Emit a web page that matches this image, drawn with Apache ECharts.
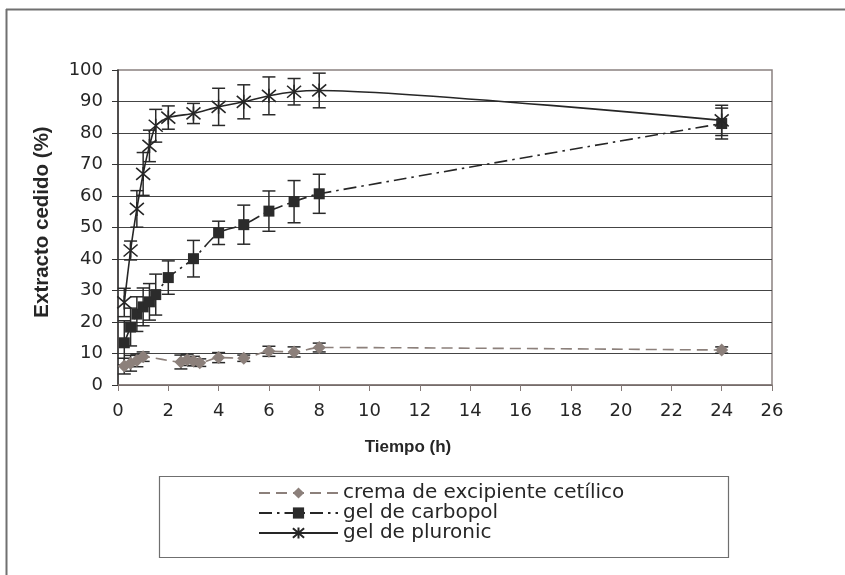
<!DOCTYPE html>
<html>
<head>
<meta charset="utf-8">
<script src="https://cdn.jsdelivr.net/npm/echarts@6/dist/echarts.min.js"></script>
<style>
  html, body { margin: 0; padding: 0; background: #ffffff; }
  #chart { width: 845px; height: 575px; }
</style>
</head>
<body>
<div id="chart"></div>
<script>
// Tiempos de muestreo (h)
const tiempo = [0.25, 0.5, 0.75, 1, 1.25, 1.5, 2, 3, 4, 5, 6, 7, 8, 24];
const tiempoCrema = [0.25, 0.5, 0.75, 1, 2.5, 2.75, 3, 3.25, 4, 5, 6, 7, 8, 24];

// Extracto cedido (%) y desviación de cada formulación
const crema = [6.0, 6.9, 7.8, 9.0, 7.3, 8.0, 7.6, 7.1, 8.7, 8.5, 10.7, 10.5, 11.9, 11.1];
const errCrema = [2.5, 2.5, 2.0, 1.5, 2.2, 1.8, 1.5, 1.2, 1.6, 1.0, 1.6, 1.6, 1.4, 1.0];

const carbopol = [13.4, 18.4, 22.5, 24.8, 26.4, 28.7, 34.1, 40.1, 48.3, 50.9, 55.2, 58.2, 60.7, 83.0];
const errCarbopol = [7.0, 6.0, 5.5, 6.0, 5.8, 6.5, 5.3, 5.8, 3.7, 6.2, 6.4, 6.7, 6.2, 4.9];

const pluronic = [26.2, 42.7, 55.9, 67.0, 75.9, 82.3, 84.9, 86.2, 88.3, 89.9, 91.8, 93.1, 93.5, 84.0];
const errPluronic = [4.5, 3.0, 5.8, 6.8, 5.0, 5.2, 3.7, 3.2, 5.9, 5.4, 6.0, 4.2, 5.5, 4.8];

const nombres = ['crema de excipiente cetílico', 'gel de carbopol', 'gel de pluronic'];

const pares = (xs, ys) => xs.map((x, i) => [x, ys[i]]);
const barras = (xs, ys, es) => xs.map((x, i) => [x, ys[i] - es[i], ys[i] + es[i]]);

// Barra de error vertical con remates horizontales
function errorBar(color) {
  return function (params, api) {
    const x = api.value(0);
    const lo = api.coord([x, api.value(1)]);
    const hi = api.coord([x, api.value(2)]);
    const w = 6.5;
    const st = { stroke: color, lineWidth: 1.5 };
    return {
      type: 'group',
      children: [
        { type: 'line', shape: { x1: lo[0], y1: lo[1], x2: hi[0], y2: hi[1] }, style: st },
        { type: 'line', shape: { x1: lo[0] - w, y1: lo[1], x2: lo[0] + w, y2: lo[1] }, style: st },
        { type: 'line', shape: { x1: hi[0] - w, y1: hi[1], x2: hi[0] + w, y2: hi[1] }, style: st }
      ]
    };
  };
}

const grisCrema = '#8c807b';
const negro = '#262626';
const asterisco = 'path://M0 0L12 12M12 0L0 12M6 -1L6 13';

const chart = echarts.init(document.getElementById('chart'), null, { renderer: 'canvas' });

chart.setOption({
  animation: false,
  backgroundColor: '#ffffff',
  grid: {
    left: 118, top: 70, width: 654, height: 315,
    show: true, borderColor: '#8b8180', borderWidth: 1.5, backgroundColor: 'transparent'
  },
  legend: {
    data: nombres,
    orient: 'vertical',
    left: 258, top: 483,
    padding: 0,
    itemGap: 0,
    itemWidth: 79, itemHeight: 14,
    textStyle: { fontFamily: 'DejaVu Sans', fontSize: 20, lineHeight: 20, color: negro }
  },
  xAxis: {
    type: 'value', min: 0, max: 26, interval: 2,
    axisLine: { lineStyle: { color: '#857a78', width: 1.5 } },
    axisTick: { show: true, length: 6, lineStyle: { color: '#857a78' } },
    axisLabel: { fontFamily: 'DejaVu Sans', fontSize: 18, color: negro, margin: 17 },
    splitLine: { show: false }
  },
  yAxis: {
    type: 'value', min: 0, max: 100, interval: 10,
    axisLine: { show: true, lineStyle: { color: '#333333', width: 1.5 } },
    axisTick: { show: true, length: 6, lineStyle: { color: '#333333' } },
    axisLabel: { fontFamily: 'DejaVu Sans', fontSize: 18, color: negro, margin: 15 },
    splitLine: { show: true, showMaxLine: false, lineStyle: { color: '#444444', width: 1 } }
  },
  graphic: [
    { type: 'line', shape: { x1: 6.5, y1: 9, x2: 6.5, y2: 575 }, style: { stroke: '#707070', lineWidth: 2 } },
    { type: 'line', shape: { x1: 6, y1: 9.5, x2: 845, y2: 9.5 }, style: { stroke: '#707070', lineWidth: 2 } },
    { type: 'rect', shape: { x: 159.5, y: 476.5, width: 569, height: 81 },
      style: { fill: 'transparent', stroke: '#6f6f6f', lineWidth: 1.2 }, z: -1 },
    { type: 'text', x: 42, y: 222, rotation: Math.PI / 2,
      style: { text: 'Extracto cedido (%)', fontFamily: 'Liberation Sans', fontWeight: 'bold',
               fontSize: 20.5, fill: negro, align: 'center', verticalAlign: 'middle' } },
    { type: 'text', x: 408, y: 447,
      style: { text: 'Tiempo (h)', fontFamily: 'Liberation Sans', fontWeight: 'bold',
               fontSize: 17, fill: negro, align: 'center', verticalAlign: 'middle' } }
  ],
  series: [
    { type: 'custom', name: 'err-crema', renderItem: errorBar('#2a2a2a'),
      data: barras(tiempoCrema, crema, errCrema), encode: { x: 0, y: [1, 2] }, z: 1, silent: true },
    { type: 'custom', name: 'err-carbopol', renderItem: errorBar('#2a2a2a'),
      data: barras(tiempo, carbopol, errCarbopol), encode: { x: 0, y: [1, 2] }, z: 1, silent: true },
    { type: 'custom', name: 'err-pluronic', renderItem: errorBar('#2a2a2a'),
      data: barras(tiempo, pluronic, errPluronic), encode: { x: 0, y: [1, 2] }, z: 1, silent: true },
    {
      type: 'line', name: nombres[0], data: pares(tiempoCrema, crema), smooth: 0.25, z: 3,
      symbol: 'diamond', symbolSize: 13, showAllSymbol: true,
      lineStyle: { color: grisCrema, width: 1.6, type: [11, 6] },
      itemStyle: { color: grisCrema }
    },
    {
      type: 'line', name: nombres[1], data: pares(tiempo, carbopol), smooth: 0.25, z: 3,
      symbol: 'rect', symbolSize: 11, showAllSymbol: true,
      lineStyle: { color: negro, width: 1.6, type: [13, 5, 2.5, 5] },
      itemStyle: { color: '#2b2b2b' }
    },
    {
      type: 'line', name: nombres[2], data: pares(tiempo, pluronic), smooth: 0.2, z: 3,
      symbol: asterisco, symbolSize: 14, showAllSymbol: true,
      lineStyle: { color: negro, width: 1.6 },
      itemStyle: { color: 'none', borderColor: negro, borderWidth: 1.6 }
    }
  ]
});
</script>
</body>
</html>
